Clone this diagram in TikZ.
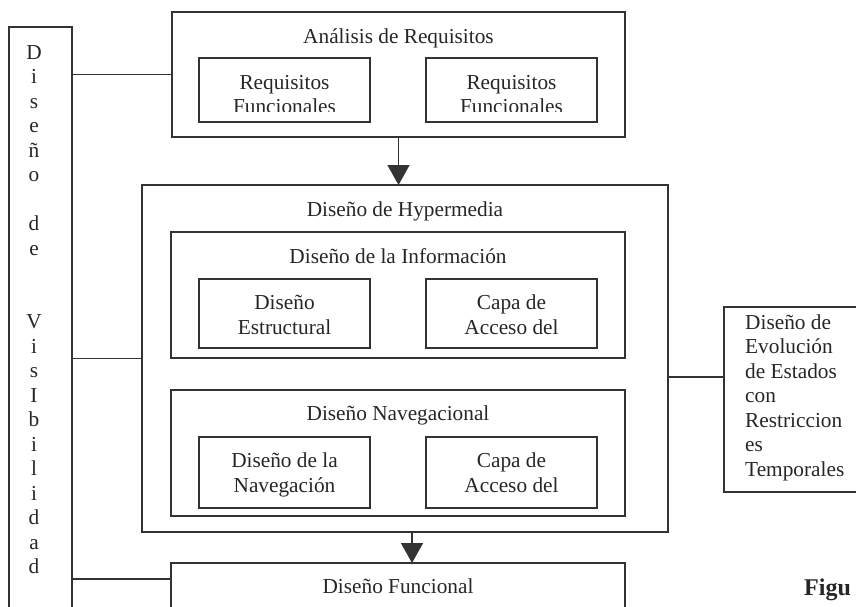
\documentclass[tikz,border=0pt]{standalone}
\usepackage{fontspec}
\setmainfont{Liberation Serif}
\usetikzlibrary{arrows.meta}

\begin{document}
\begin{tikzpicture}[x=1pt, y=-1pt,
    caja/.style={draw=black!80, line width=1.5pt, inner sep=0pt, outer sep=0pt},
    texto/.style={text=black!85, font=\fontsize{21.3}{24.5}\selectfont, inner sep=0pt, anchor=base},
    linea/.style={draw=black!80, line width=1.5pt},
    flecha/.style={linea, -{Triangle[length=20pt, width=22pt]}}]
    % --- parámetros ---
    \def\xa{284.5}   % centro de la columna izquierda
    \def\xb{511.5}   % centro de la columna derecha
    \def\paso{24.52} % interlineado de la caja vertical

    \useasboundingbox (0,0) rectangle (856,606);

    % --- caja vertical: Diseño de Visibilidad ---
    \node[caja, minimum width=63pt, minimum height=593pt] (vis) at (40.5, 323.5) {};
    \foreach \k/\c in {0/D,1/i,2/s,3/e,4/ñ,5/o,7/d,8/e,11/V,12/i,13/s,14/I,15/b,16/i,17/l,18/i,19/d,20/a,21/d}
        \node[texto] (letra\k) at ({34}, {59+\k*\paso}) {\c};

    % --- Análisis de Requisitos ---
    \node[caja, minimum width=453pt, minimum height=125pt] (ana) at (398.5, 74.5) {};
    \node[texto] (anaT) at (398.5, 43) {Análisis de Requisitos};
    \node[caja, minimum width=171pt, minimum height=64pt] (req1) at (\xa, 90) {};
    \node[caja, minimum width=171pt, minimum height=64pt] (req2) at (\xb, 90) {};
    % texto cortado por el borde inferior
    \begin{scope}
        \clip (req1.north west) rectangle ([yshift=10.5pt]req2.south east);
        \node[texto, align=center] (req1T) at (\xa, 113.5) {Requisitos\\Funcionales};
        \node[texto, align=center] (req2T) at (\xb, 113.5) {Requisitos\\Funcionales};
    \end{scope}

    % --- Diseño de Hypermedia ---
    \node[caja, minimum width=526pt, minimum height=347pt] (hyper) at (405, 358.5) {};
    \node[texto] (hyperT) at (405, 216) {Diseño de Hypermedia};

    % información
    \node[caja, minimum width=454pt, minimum height=126pt] (info) at (398, 295) {};
    \node[texto] (infoT) at (398, 263) {Diseño de la Información};
    \node[caja, minimum width=171pt, minimum height=69pt] (estr) at (\xa, 313.5) {};
    \node[texto, align=center] (estrT) at (\xa, 334) {Diseño\\Estructural};
    \node[caja, minimum width=171pt, minimum height=69pt] (capa1) at (\xb, 313.5) {};
    \node[texto, align=center] (capa1T) at (\xb, 334) {Capa de\\Acceso del};

    % navegación
    \node[caja, minimum width=454pt, minimum height=126pt] (nav) at (398, 453) {};
    \node[texto] (navT) at (398, 420) {Diseño Navegacional};
    \node[caja, minimum width=171pt, minimum height=71pt] (navd) at (\xa, 472.5) {};
    \node[texto, align=center] (navdT) at (\xa, 492) {Diseño de la\\Navegación};
    \node[caja, minimum width=171pt, minimum height=71pt] (capa2) at (\xb, 472.5) {};
    \node[texto, align=center] (capa2T) at (\xb, 492) {Capa de\\Acceso del};

    % --- Diseño Funcional ---
    \node[caja, minimum width=454pt, minimum height=77pt] (func) at (398, 601.5) {};
    \node[texto] (funcT) at (398, 593) {Diseño Funcional};

    % --- caja derecha ---
    \node[caja, minimum width=156pt, minimum height=185pt] (evo) at (802, 399.5) {};
    \node[texto, align=left, anchor=base west] (evoT) at (745, 476)
        {Diseño de\\Evolución\\de Estados\\con\\Restriccion\\es\\Temporales};
    \coordinate (evoin) at (724, 377);

    \node[texto, anchor=base west, font=\fontsize{24}{28}\selectfont\bfseries] (fig) at (804, 595) {Figu};

    % --- conectores ---
    \draw[linea] (ana.west) -- (ana.west -| vis.east);
    \draw[linea] (hyper.west) -- (hyper.west -| vis.east);
    \draw[linea] ([yshift=-16pt]func.north west) -- ([yshift=-16pt]func.north west -| vis.east);
    \draw[linea] (evoin) -- (evoin -| hyper.east);
    \draw[flecha] (ana.south) -- (ana.south |- hyper.north);
    \draw[flecha] ([xshift=7pt]hyper.south) -- ([xshift=7pt]hyper.south |- func.north);
\end{tikzpicture}
\end{document}
